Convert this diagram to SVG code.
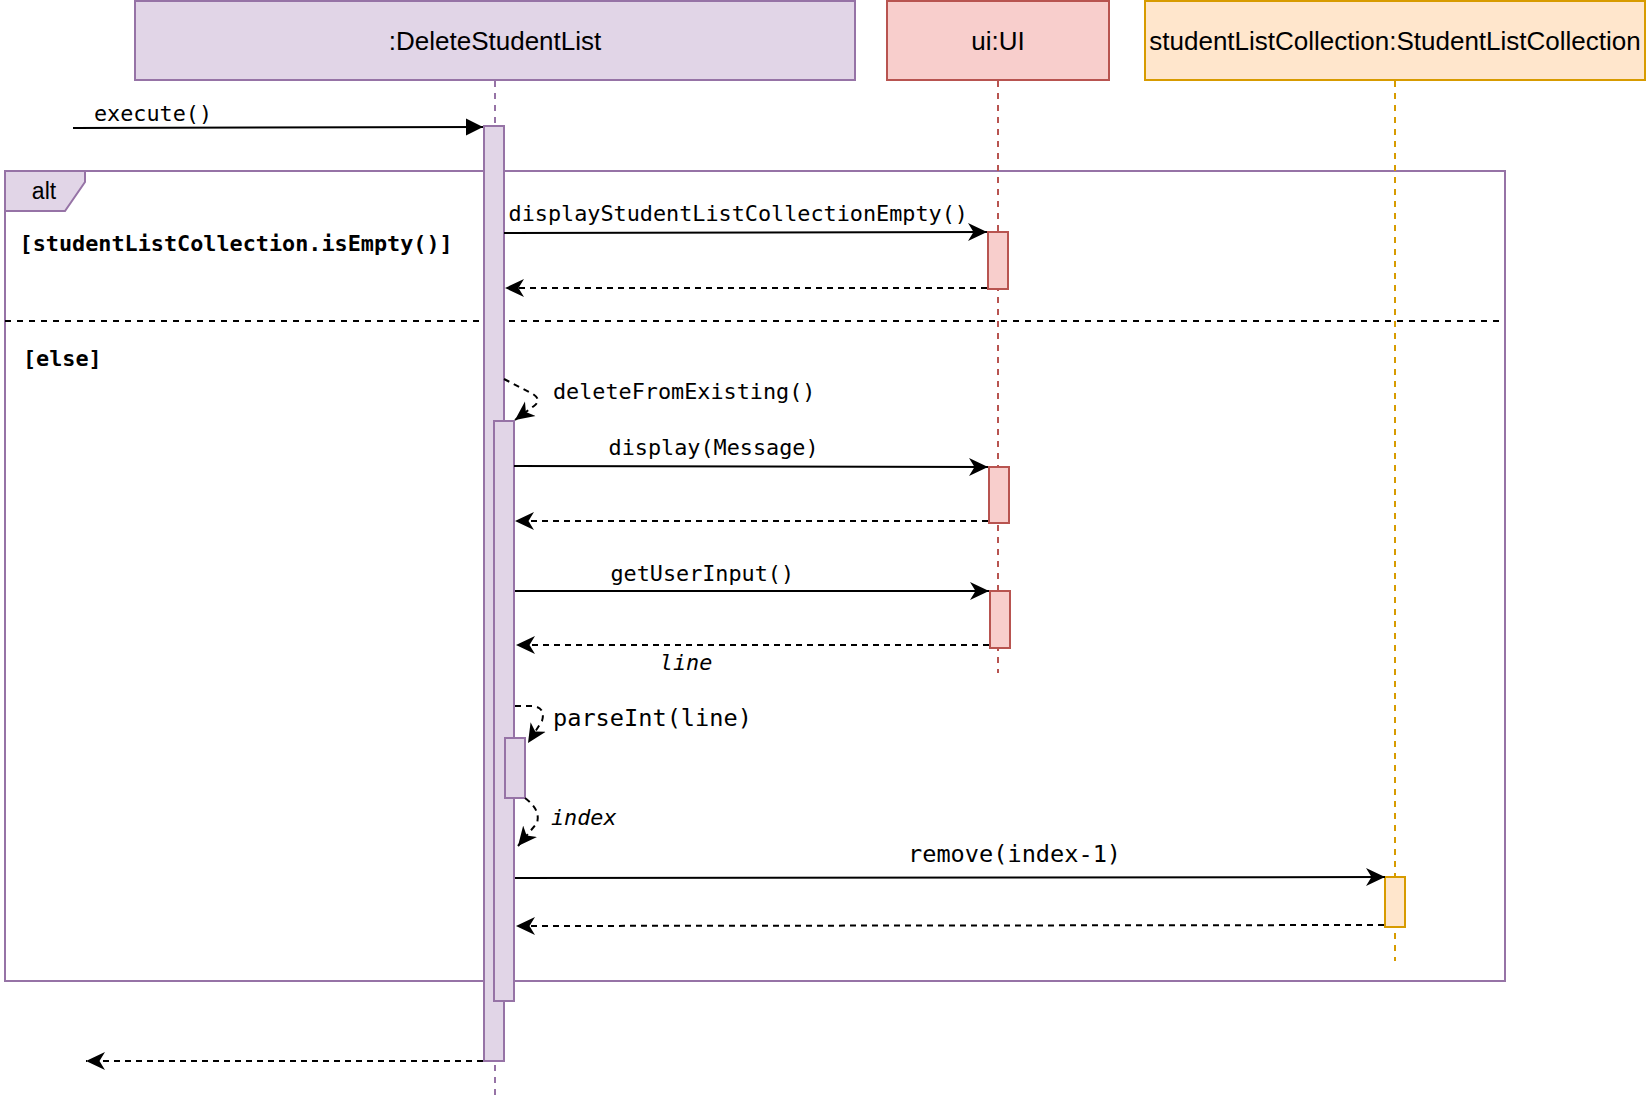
<svg xmlns="http://www.w3.org/2000/svg" width="1648" height="1104" viewBox="0 0 1648 1104">
  <style>
    .hdr { font-family: "Liberation Sans", Arial, Helvetica, sans-serif; font-size: 26px; fill: #000; text-anchor: middle; }
    .mono { font-family: "DejaVu Sans Mono", "Liberation Mono", monospace; font-size: 21.8px; fill: #000; }
    .big { font-size: 23.6px; }
    .bold { font-weight: bold; }
    .ital { font-style: italic; }
    .purple { fill: #e1d5e7; stroke: #9673a6; stroke-width: 2; }
    .red { fill: #f8cecc; stroke: #b85450; stroke-width: 2; }
    .orange { fill: #ffe6cc; stroke: #d79b00; stroke-width: 2; }
    .msg { fill: none; stroke: #000; stroke-width: 2; }
    .ret { fill: none; stroke: #000; stroke-width: 2; stroke-dasharray: 6 5; }
    .life { fill: none; stroke-width: 2; stroke-dasharray: 6 6; }
  </style>
  <defs>
    <marker id="block" markerUnits="userSpaceOnUse" markerWidth="18" markerHeight="18" viewBox="0 0 18 18" refX="17" refY="9" orient="auto">
      <path d="M0,0.5 L17,9 L0,17.5 Z" fill="#000"/>
    </marker>
    <marker id="classic" markerUnits="userSpaceOnUse" markerWidth="20" markerHeight="19" viewBox="0 0 20 19" refX="19" refY="9.5" orient="auto">
      <path d="M19,9.5 L0,0.5 L5.5,9.5 L0,18.5 Z" fill="#000"/>
    </marker>
  </defs>

  <!-- alt frame -->
  <g id="alt-frame">
    <rect x="5" y="171" width="1500" height="810" fill="none" stroke="#9673a6" stroke-width="2"/>
    <path d="M5,171 L85,171 L85,182 L65,211 L5,211 Z" fill="#e1d5e7" stroke="#9673a6" stroke-width="2"/>
    <text x="44" y="199" class="hdr" style="font-size:23px">alt</text>
    <line x1="5" y1="321" x2="1505" y2="321" stroke="#000" stroke-width="2" stroke-dasharray="6 6"/>
    <text x="19.6" y="250.5" class="mono bold">[studentListCollection.isEmpty()]</text>
    <text x="23" y="366" class="mono bold">[else]</text>
  </g>

  <!-- lifelines -->
  <g id="lifelines">
    <line x1="495" y1="81" x2="495" y2="1095" class="life" stroke="#9673a6"/>
    <line x1="998" y1="81" x2="998" y2="673" class="life" stroke="#b85450"/>
    <line x1="1395" y1="81" x2="1395" y2="961" class="life" stroke="#d79b00"/>
  </g>

  <!-- participants -->
  <g id="DeleteStudentList">
    <rect x="135" y="1" width="720" height="79" class="purple"/>
    <text x="495" y="50" class="hdr">:DeleteStudentList</text>
  </g>
  <g id="ui">
    <rect x="887" y="1" width="222" height="79" class="red"/>
    <text x="998" y="50" class="hdr">ui:UI</text>
  </g>
  <g id="studentListCollection">
    <rect x="1145" y="1" width="500" height="79" class="orange"/>
    <text x="1395" y="50" class="hdr">studentListCollection:StudentListCollection</text>
  </g>

  <!-- activations -->
  <g id="activations">
    <rect x="484" y="126" width="20" height="935" class="purple"/>
    <rect x="494" y="421" width="20" height="580" class="purple"/>
    <rect x="505" y="738" width="20" height="60" class="purple"/>
    <rect x="988" y="232" width="20" height="57" class="red"/>
    <rect x="989" y="467" width="20" height="56" class="red"/>
    <rect x="990" y="591" width="20" height="57" class="red"/>
    <rect x="1385" y="877" width="20" height="50" class="orange"/>
  </g>

  <!-- connectors -->
  <g id="connectors">
    <line x1="73" y1="128" x2="483" y2="127" class="msg" marker-end="url(#block)"/>
    <line x1="504" y1="233" x2="987" y2="232" class="msg" marker-end="url(#classic)"/>
    <line x1="987" y1="288" x2="505" y2="288" class="ret" marker-end="url(#classic)"/>
    <path d="M504,379 L533,394 Q542,400 534,406 L515,420" class="ret" marker-end="url(#classic)"/>
    <line x1="514" y1="466" x2="988" y2="467" class="msg" marker-end="url(#classic)"/>
    <line x1="988" y1="521" x2="515" y2="521" class="ret" marker-end="url(#classic)"/>
    <line x1="515" y1="591" x2="989" y2="591" class="msg" marker-end="url(#classic)"/>
    <line x1="989" y1="645" x2="516" y2="645" class="ret" marker-end="url(#classic)"/>
    <path d="M515,706 L533,706 Q546,708 542,721 L528,743" class="ret" marker-end="url(#classic)"/>
    <path d="M525,798 Q541,810 537,823 L518,846" class="ret" marker-end="url(#classic)"/>
    <line x1="515" y1="878" x2="1385" y2="877" class="msg" marker-end="url(#classic)"/>
    <line x1="1384" y1="925" x2="516" y2="926" class="ret" marker-end="url(#classic)"/>
    <line x1="483" y1="1061" x2="86" y2="1061" class="ret" marker-end="url(#classic)"/>
  </g>

  <!-- labels -->
  <g id="labels">
    <text x="94" y="121" class="mono">execute()</text>
    <text x="508.6" y="221" class="mono">displayStudentListCollectionEmpty()</text>
    <text x="553" y="399" class="mono">deleteFromExisting()</text>
    <text x="608.6" y="455" class="mono">display(Message)</text>
    <text x="610.4" y="580.5" class="mono">getUserInput()</text>
    <text x="659.8" y="670" class="mono ital">line</text>
    <text x="553" y="725.5" class="mono big">parseInt(line)</text>
    <text x="551" y="825" class="mono ital">index</text>
    <text x="908" y="861.5" class="mono big">remove(index-1)</text>
  </g>
</svg>
